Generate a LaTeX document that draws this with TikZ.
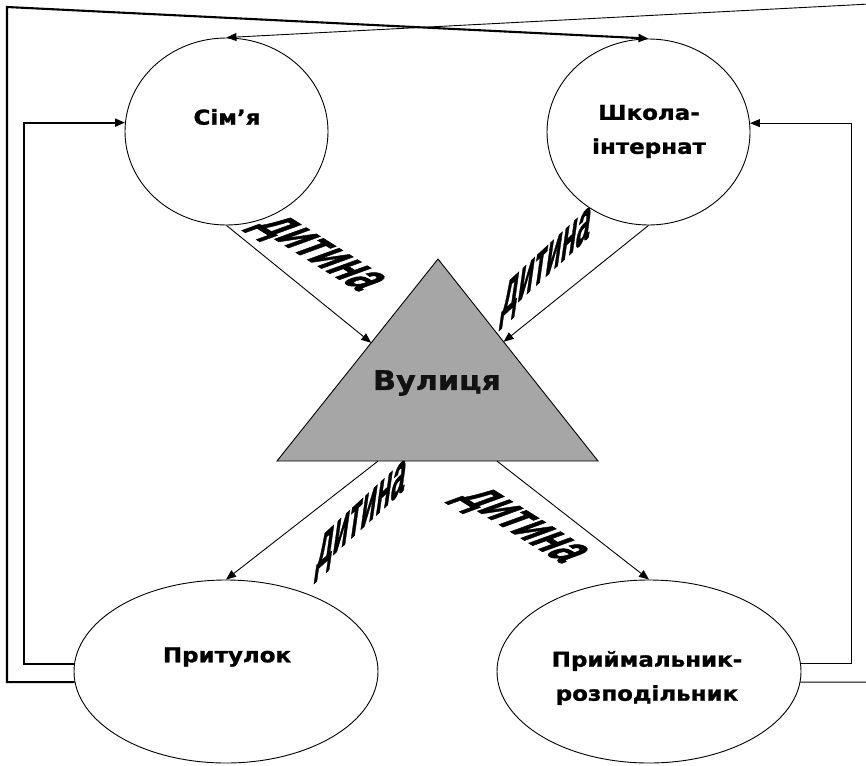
\documentclass[tikz,border=0pt]{standalone}
\usepackage{fontspec}
\setmainfont{DejaVu Sans}
\newfontfamily\headfont{DejaVu Sans Bold}[FakeStretch=1.12,FakeBold=1.2]
\newfontfamily\kidfont{Liberation Sans Bold}[FakeBold=1.5]
\usetikzlibrary{shapes.geometric,arrows.meta,calc}
\definecolor{trigray}{RGB}{166,166,166}
\begin{document}
\begin{tikzpicture}[x=1pt,y=-1pt,
  ell/.style={ellipse,draw,line width=0.9pt,inner sep=0pt},
  title/.style={font=\headfont\fontsize{20.5}{34}\selectfont,align=center,inner sep=0pt},
  kid/.style={font=\kidfont\fontsize{10}{12}\selectfont,inner sep=0pt},
  thinline/.style={line width=0.9pt},
  heavyline/.style={line width=2.1pt},
  tip/.style={-{Triangle[length=10pt,width=8pt]}},
]
\useasboundingbox (0,0) rectangle (866,765);
\clip (0,0) rectangle (866,765);

% ellipses
\node[ell,minimum width=203pt,minimum height=187pt] (sim)  at (226.5,131.5) {};
\node[ell,minimum width=203pt,minimum height=186pt] (shk)  at (648.5,132) {};
\node[ell,minimum width=304pt,minimum height=183pt] (pryt) at (226,671.5) {};
\node[ell,minimum width=304pt,minimum height=183pt] (prym) at (649,671.5) {};

\node[title] (simT)  at (227,117) {Сім’я};
\node[title] (shkT)  at (649,131.5) {Школа-\\інтернат};
\node[title] (prytT) at (227,657) {Притулок};
\node[title] (prymT) at (647,678) {Приймальник-\\розподільник};

% triangle
\coordinate (apex) at (438,259);
\coordinate (bl) at (277,461);
\coordinate (br) at (598,461);
\filldraw[fill=trigray,thinline] (apex) -- (br) -- (bl) -- cycle;
\node[title,font=\headfont\fontsize{27}{34}\selectfont,text=black!93] (vul) at (437,383) {Вулиця};

\coordinate (tl) at ($(apex)!0.415!(bl)$);
\coordinate (tr) at ($(apex)!0.41!(br)$);
\coordinate (bL) at ($(bl)!0.315!(br)$);
\coordinate (bR) at ($(bl)!0.685!(br)$);

\draw[thinline,tip] (sim.south) -- (tl);
\draw[thinline,tip] (shk.south) -- (tr);
\draw[thinline,tip] (bL) -- (pryt.north);
\draw[thinline,tip] (bR) -- (prym.north);

% outer loops
\coordinate (cTL) at (7,7);
\coordinate (cIL) at (24,0);
\coordinate (cIR) at (851,0);
\coordinate (cTR) at (870,4);
\draw[heavyline,tip] (pryt.184) -| (cTL) -- (shk.north);
\draw[heavyline,tip] (pryt.177) -| (cIL |- sim.175) -- (sim.175);
\draw[thinline,tip] (prym.3) -| (cIR |- shk.5) -- (shk.5);
\draw[thinline,tip] (prym.356) -| (cTR) -- (sim.north);

% labels
\node[kid,cm={2.98,-1.86,5.97,2.17,(0,0)}] (kidA) at (316,255) {дитина};
\node[kid,cm={2.5,2.3,0.9,6.4,(0,0)}] (kidB) at (546,267) {дитина};
\node[kid,cm={2.5,2.3,0.9,6.4,(0,0)}] (kidC) at (361,520) {дитина};
\node[kid,cm={2.98,-1.86,5.97,2.17,(0,0)}] (kidD) at (519,527) {дитина};
\end{tikzpicture}
\end{document}
